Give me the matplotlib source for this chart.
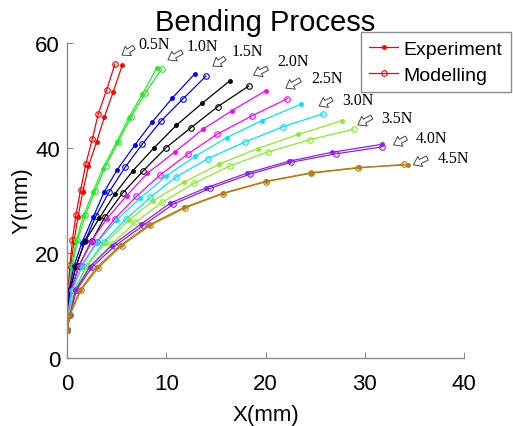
import matplotlib
matplotlib.use("Agg")
import matplotlib.pyplot as plt

# force levels and line colours
forces = ["0.5N", "1.0N", "1.5N", "2.0N", "2.5N", "3.0N", "3.5N", "4.0N", "4.5N"]
colors = ["#ff0000", "#22ee22", "#0000ff", "#000000", "#ff00ff",
          "#00e5f5", "#88ee22", "#8a22ee", "#b87d12"]

# experiment (filled dots)
exp_05_x = [0, 0, 0.1, 0.35, 0.7, 1.1, 1.6, 2.15, 2.99, 3.76, 4.66, 5.57]
exp_05_y = [5.2, 8.1, 12.6, 17.3, 22.0, 26.8, 31.6, 36.4, 41.1, 45.8, 50.6, 55.7]
exp_10_x = [0, 0.05, 0.15, 0.47, 0.9, 1.64, 2.65, 3.6, 5.0, 6.2, 7.6, 9.03]
exp_10_y = [5.2, 8.1, 12.8, 17.3, 22.1, 27.0, 31.6, 36.0, 41.0, 45.6, 50.2, 55.1]
exp_15_x = [0, 0.05, 0.2, 0.7, 1.5, 2.65, 3.76, 5.07, 6.85, 8.6, 10.6, 12.86]
exp_15_y = [5.2, 8.1, 12.8, 17.4, 21.9, 26.8, 31.6, 35.8, 40.5, 44.9, 49.4, 54.0]
exp_20_x = [0, 0.05, 0.3, 0.9, 1.8, 3.25, 4.8, 6.6, 8.8, 11.0, 13.6, 16.4]
exp_20_y = [5.2, 8.1, 12.8, 17.3, 22.1, 26.5, 31.1, 35.5, 40.0, 44.2, 48.4, 52.7]
exp_25_x = [0, 0.1, 0.4, 1.2, 2.4, 4.0, 6.0, 8.1, 10.9, 13.7, 16.6, 20.0]
exp_25_y = [5.2, 8.1, 12.8, 17.4, 22.0, 26.4, 30.8, 35.1, 39.2, 43.5, 47.0, 50.8]
exp_30_x = [0, 0.1, 0.5, 1.5, 3.0, 5.0, 7.4, 10.0, 12.9, 16.1, 19.6, 23.6]
exp_30_y = [5.2, 8.1, 12.8, 17.4, 21.9, 26.2, 30.4, 34.6, 38.3, 41.9, 45.1, 48.3]
exp_35_x = [0, 0.2, 0.75, 2.0, 3.9, 6.2, 8.7, 11.8, 15.3, 19.2, 23.3, 27.7]
exp_35_y = [5.2, 8.1, 12.8, 17.4, 21.9, 26.1, 29.9, 33.4, 36.8, 39.8, 42.5, 45.1]
exp_40_x = [0, 0.3, 0.85, 2.3, 4.5, 7.45, 10.4, 14.0, 18.1, 22.4, 26.7, 31.7]
exp_40_y = [5.2, 8.1, 12.8, 17.3, 21.3, 25.4, 29.4, 32.3, 35.1, 37.4, 39.1, 40.6]
exp_45_x = [0, 0.25, 1.3, 3.0, 5.4, 8.3, 11.8, 15.7, 20.1, 24.6, 29.4, 34.4]
exp_45_y = [5.2, 8.1, 12.8, 17.2, 21.4, 25.3, 28.6, 31.3, 33.6, 35.2, 36.2, 36.7]

# modelling (open circles)
mod_05_x = [0, 0, 0.1, 0.3, 0.55, 0.9, 1.38, 1.9, 2.55, 3.15, 4.0, 4.83]
mod_05_y = [5.2, 8.1, 12.8, 17.6, 22.4, 27.2, 32.0, 36.9, 41.6, 46.4, 51.0, 55.9]
mod_10_x = [0, 0.05, 0.2, 0.55, 1.05, 1.85, 2.85, 3.9, 5.17, 6.45, 7.9, 9.54]
mod_10_y = [5.2, 8.1, 12.8, 17.5, 22.3, 27.1, 31.8, 36.5, 41.1, 45.8, 50.4, 55.0]
mod_15_x = [0, 0.05, 0.3, 0.9, 1.8, 2.9, 4.26, 5.84, 7.6, 9.5, 11.65, 14.0]
mod_15_y = [5.2, 8.1, 12.8, 17.4, 22.1, 26.9, 31.6, 36.2, 40.7, 45.1, 49.2, 53.6]
mod_20_x = [0, 0.1, 0.4, 1.2, 2.5, 3.8, 5.6, 7.7, 10.0, 12.5, 15.2, 18.3]
mod_20_y = [5.2, 8.1, 12.8, 17.5, 22.2, 26.7, 31.3, 35.6, 40.0, 43.8, 47.8, 51.7]
mod_25_x = [0, 0.1, 0.5, 1.5, 3.0, 4.8, 7.0, 9.4, 12.2, 15.1, 18.6, 22.2]
mod_25_y = [5.2, 8.1, 12.8, 17.5, 22.0, 26.4, 30.7, 34.8, 38.8, 42.5, 46.0, 49.3]
mod_30_x = [0, 0.2, 0.7, 2.0, 3.7, 5.9, 8.4, 11.0, 14.2, 17.9, 21.8, 25.8]
mod_30_y = [5.2, 8.1, 12.8, 17.5, 22.0, 26.3, 30.5, 34.4, 37.9, 41.0, 44.0, 46.4]
mod_35_x = [0, 0.25, 0.85, 2.3, 4.5, 6.9, 9.6, 12.8, 16.4, 20.3, 24.5, 28.9]
mod_35_y = [5.2, 8.1, 12.8, 17.3, 21.6, 25.8, 29.6, 33.2, 36.5, 39.2, 41.5, 43.5]
mod_40_x = [0, 0.3, 0.95, 2.5, 4.8, 7.7, 10.7, 14.4, 18.4, 22.6, 27.1, 31.7]
mod_40_y = [5.2, 8.1, 12.8, 17.2, 21.2, 25.2, 29.2, 32.2, 34.9, 37.2, 38.8, 40.1]
mod_45_x = [0, 0.3, 1.4, 3.15, 5.5, 8.4, 11.9, 15.7, 20.1, 24.6, 29.3, 34.0]
mod_45_y = [5.2, 8.1, 12.8, 17.1, 21.3, 25.2, 28.5, 31.2, 33.5, 35.1, 36.1, 36.8]

exp_x = [exp_05_x, exp_10_x, exp_15_x, exp_20_x, exp_25_x, exp_30_x, exp_35_x, exp_40_x, exp_45_x]
exp_y = [exp_05_y, exp_10_y, exp_15_y, exp_20_y, exp_25_y, exp_30_y, exp_35_y, exp_40_y, exp_45_y]
mod_x = [mod_05_x, mod_10_x, mod_15_x, mod_20_x, mod_25_x, mod_30_x, mod_35_x, mod_40_x, mod_45_x]
mod_y = [mod_05_y, mod_10_y, mod_15_y, mod_20_y, mod_25_y, mod_30_y, mod_35_y, mod_40_y, mod_45_y]

# label arrows: head (x, y), tail (x, y), text position
arrow_head_x = [5.54, 10.17, 14.7, 18.8, 22.05, 25.4, 29.3, 32.9, 34.9]
arrow_head_y = [57.6, 56.7, 55.5, 53.8, 51.3, 47.9, 44.3, 40.5, 36.7]
arrow_tail_x = [6.75, 11.58, 15.9, 20.2, 23.5, 26.7, 30.7, 34.2, 36.3]
arrow_tail_y = [59.1, 58.2, 57.0, 55.1, 52.9, 49.2, 45.8, 41.8, 38.0]
label_x = [8.76, 13.6, 18.2, 22.8, 26.2, 29.3, 33.2, 36.7, 38.9]
label_y = [59.7, 59.3, 58.4, 56.5, 53.2, 49.0, 45.6, 41.8, 38.0]

plt.rcParams['font.family'] = ['Liberation Sans', 'DejaVu Sans']

fig = plt.figure(figsize=(5.13, 4.27), dpi=100)
ax = fig.add_axes([0.1306, 0.1604, 0.7739, 0.7377])

for i in range(len(forces)):
	ax.plot(exp_x[i], exp_y[i], '-o', color=colors[i], lw=0.9, ms=2.5,
		mfc=colors[i], mec=colors[i], label="Experiment" if i == 0 else None)
	ax.plot(mod_x[i], mod_y[i], '-o', color=colors[i], lw=0.9, ms=4,
		mfc='none', mec=colors[i], mew=0.8, label="Modelling" if i == 0 else None)

for i in range(len(forces)):
	ax.annotate('', xy=(arrow_head_x[i], arrow_head_y[i]),
		xytext=(arrow_tail_x[i], arrow_tail_y[i]), annotation_clip=False,
		arrowprops=dict(arrowstyle='simple,head_length=0.55,head_width=0.8,tail_width=0.32',
			fc='white', ec='#444444', lw=0.7, shrinkA=0, shrinkB=0))
	ax.text(label_x[i], label_y[i], forces[i], fontsize=11.5, family='Liberation Serif',
		ha='center', va='center', clip_on=False)

ax.set_xlim(0, 40)
ax.set_ylim(0, 60)
ax.set_xticks([0, 10, 20, 30, 40])
ax.set_yticks([0, 20, 40, 60])
for side in ['top', 'right']:
	ax.spines[side].set_visible(False)
for side in ['left', 'bottom']:
	ax.spines[side].set_color('#8c8c8c')
	ax.spines[side].set_linewidth(1.0)
ax.tick_params(direction='in', length=4, color='#8c8c8c', labelsize=16)
ax.tick_params(axis='x', pad=11)
ax.tick_params(axis='y', pad=5)

ax.set_xlabel("X(mm)", fontsize=16, labelpad=7)
ax.set_ylabel("Y(mm)", fontsize=16, labelpad=2)
ax.set_title("Bending Process", fontsize=21, pad=9)

leg = fig.legend(loc='upper right', bbox_to_anchor=(0.996, 0.923), fontsize=14,
	fancybox=False, edgecolor='#8c8c8c', framealpha=1, borderpad=0.45,
	handlelength=1.5, handletextpad=0.25, labelspacing=0.4, borderaxespad=0)
leg.get_frame().set_linewidth(1.0)

fig.savefig("out.png", dpi=100)
